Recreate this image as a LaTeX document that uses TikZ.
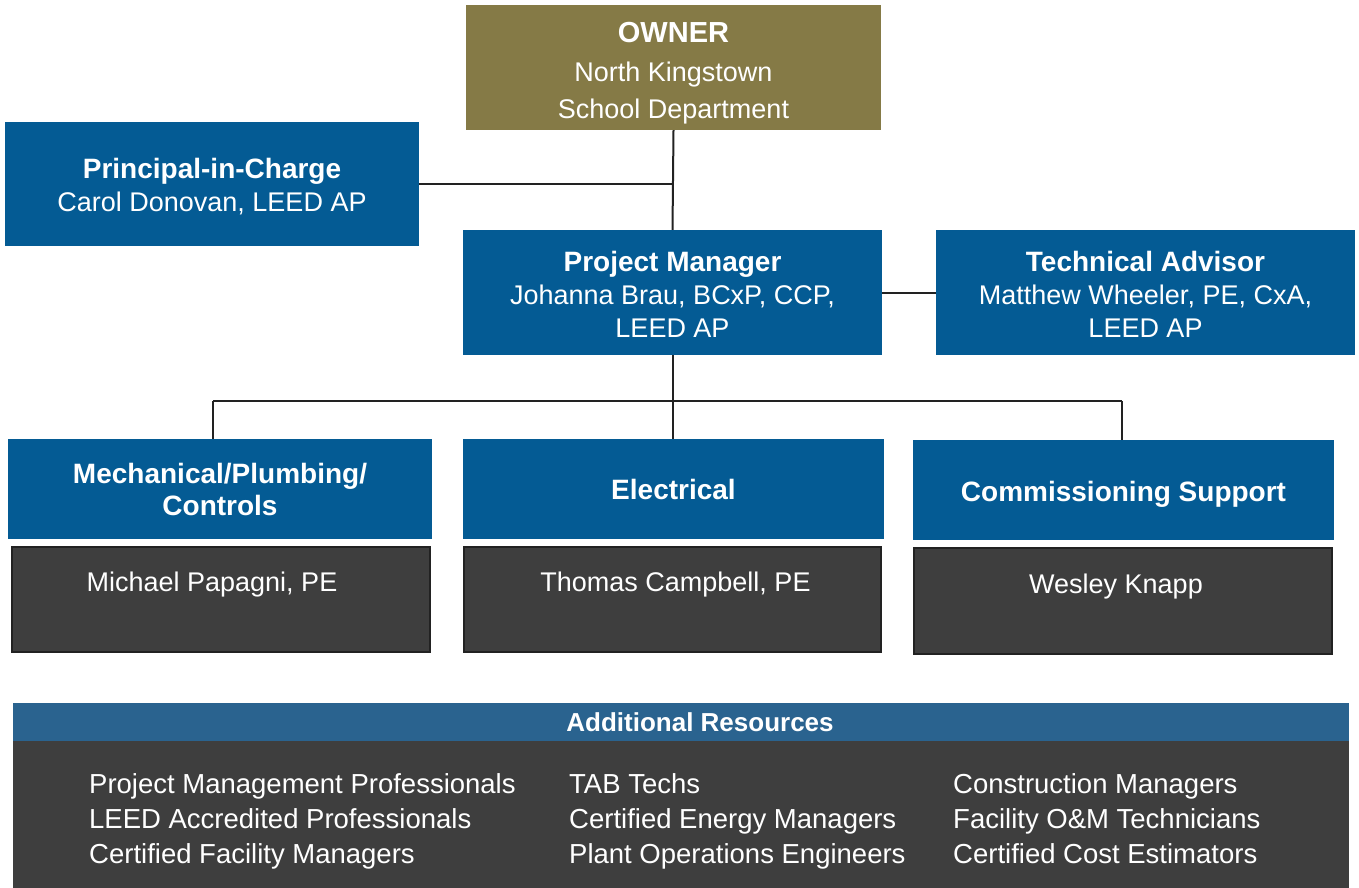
\documentclass[tikz,border=0pt]{standalone}
\usepackage{fontspec}
\setmainfont{Liberation Sans}
\usetikzlibrary{positioning}

\definecolor{ownergold}{HTML}{857A46}
\definecolor{teamblue}{HTML}{045B94}
\definecolor{namegray}{HTML}{3E3E3E}
\definecolor{headblue}{HTML}{2A638F}
\definecolor{linkgray}{HTML}{222222}

% invisible strut to push the first line of a box down
\newcommand{\topgap}[1]{\rule{0pt}{#1pt}}

\begin{document}
\begin{tikzpicture}[x=1pt,y=-1pt,
  box/.style={rectangle,inner sep=0pt,text=white,align=center,
    font=\fontsize{27}{33}\selectfont},
  rolebox/.style={box,fill=teamblue,minimum width=#1,minimum height=125},
  teambox/.style={box,fill=teamblue,minimum width=#1,minimum height=100,
    font=\fontsize{28}{32}\selectfont\bfseries},
  namebox/.style={box,fill=namegray,draw=linkgray,line width=2pt,
    minimum width=#1,minimum height=105,text height=43,text depth=60},
  listcol/.style={box,align=left,anchor=west,font=\fontsize{27.5}{35}\selectfont},
  link/.style={draw=linkgray,line width=2pt}]
\useasboundingbox (0,0) rectangle (1359,888);
%
\node[box,fill=ownergold,minimum width=415,minimum height=125,
  font=\fontsize{27}{37}\selectfont] (owner) at (673.5,67.5)
  {\topgap{31}{\fontsize{29}{37}\selectfont\bfseries OWNER}\\[2pt]North Kingstown\\School Department};
\node[rolebox=414,minimum height=124] (pic) at (212,184)
  {\topgap{26}{\fontsize{28}{33}\selectfont\bfseries Principal-in-Charge}\\Carol Donovan, LEED AP};
\node[rolebox=419] (pm) at (672.5,292.5)
  {\topgap{24.5}{\fontsize{28}{32}\selectfont\bfseries Project Manager}\\Johanna Brau, BCxP, CCP,\\LEED AP};
\node[rolebox=419] (tech) at (1145.5,292.5)
  {\topgap{24.5}{\fontsize{28}{32}\selectfont\bfseries Technical Advisor}\\Matthew Wheeler, PE, CxA,\\LEED AP};
%
\node[teambox=424] (mech) at (220,489) {Mechanical/Plumbing/\\Controls};
\node[teambox=421] (elec) at (673.5,489) {Electrical};
\node[teambox=421] (cx) at (1123.5,490) {\topgap{28.5}Commissioning Support};
%
\node[namebox=418] (mechname) at (221,599.5) {\hspace*{-18pt}Michael Papagni, PE};
\node[namebox=417] (elecname) at (672.5,599.5) {\hspace*{6pt}Thomas Campbell, PE};
\node[namebox=418,minimum height=106,text height=45,text depth=61] (cxname) at (1123,601)
  {\hspace*{-14pt}Wesley Knapp};
%
\draw[link] (owner.south) -- (pm.north);
\draw[link] (pic.east) -- (pic.east -| owner.south);
\draw[link] (pm.east) -- (tech.west);
\coordinate (busL) at (213,401);
\coordinate (busR) at (1122,401);
\draw[link] (busL) -- (busR);
\draw[link] (pm.south) -- (pm.south |- elec.north);
\draw[link] (busL) -- (busL |- mech.north);
\draw[link] (busR) -- (busR |- cx.north);
%
\node[box,fill=headblue,minimum width=1336,minimum height=38,
  font=\fontsize{26}{30}\selectfont\bfseries] (addhead) at (681,722)
  {\hspace*{38pt}Additional Resources};
\node[box,fill=namegray,minimum width=1336,minimum height=147] (addbody) at (681,814.5) {};
\node[listcol] (res1) at (89,821)
  {\strut Project Management Professionals\\LEED Accredited Professionals\\Certified Facility Managers\strut};
\node[listcol] (res2) at (569,821)
  {\strut TAB Techs\\Certified Energy Managers\\Plant Operations Engineers\strut};
\node[listcol] (res3) at (953,821)
  {\strut Construction Managers\\Facility O\&M Technicians\\Certified Cost Estimators\strut};
\end{tikzpicture}
\end{document}
